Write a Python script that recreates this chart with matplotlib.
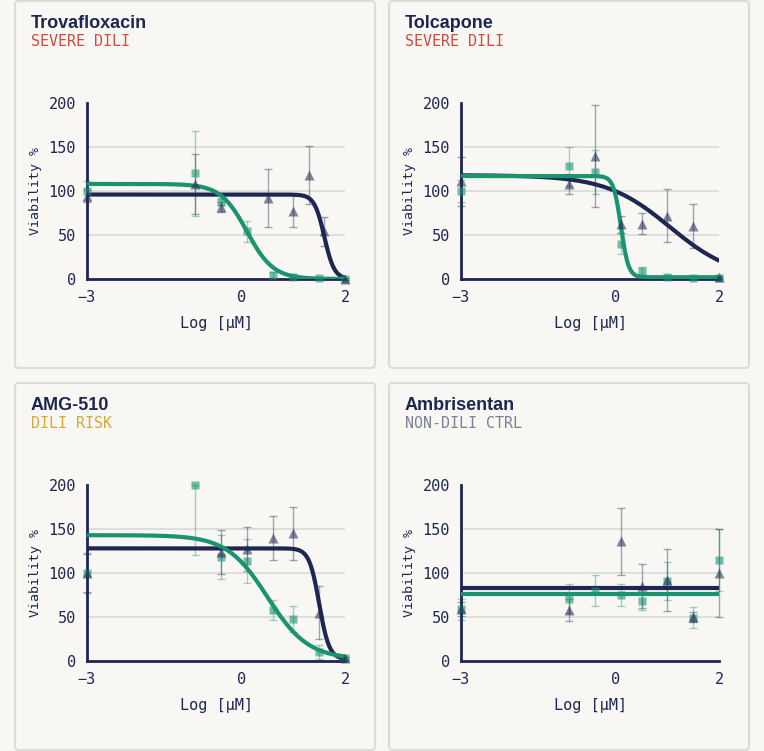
import numpy as np
import matplotlib
matplotlib.use("Agg")
import matplotlib.pyplot as plt
from matplotlib.patches import FancyBboxPatch

# colours
BG = "#f8f7f3"
NAVY = "#1e2652"
GREEN = "#1a9470"
GRID = "#d9d9d9"
MONO = "DejaVu Sans Mono"

drugs = ["Trovafloxacin", "Tolcapone", "AMG-510", "Ambrisentan"]
risk_labels = ["SEVERE DILI", "SEVERE DILI", "DILI RISK", "NON-DILI CTRL"]
risk_colors = ["#d24a3e", "#d24a3e", "#d6a83a", "#7c8295"]

# measured points: green squares and navy triangles (log uM, viability %, error)
trova_sq_x = [-3, -0.9, -0.4, 0.1, 0.6, 1.0, 1.5, 2.0]
trova_sq_y = [100, 120, 88, 54, 4.5, 2.5, 1.5, 0]
trova_sq_e = [11, 48, 4, 12, 3, 2, 1, 1]
trova_tri_x = [-3, -0.9, -0.4, 0.5, 1.0, 1.3, 1.6, 2.0]
trova_tri_y = [94, 108, 82, 92, 77, 118, 54, 0]
trova_tri_e = [7, 34, 6, 33, 18, 33, 16, 1]

tolca_sq_x = [-3, -0.9, -0.4, 0.1, 0.5, 1.0, 1.5, 2.0]
tolca_sq_y = [100, 128, 122, 40, 9, 2, 1, 1]
tolca_sq_e = [12, 22, 25, 12, 5, 2, 1, 1]
tolca_tri_x = [-3, -0.9, -0.4, 0.1, 0.5, 1.0, 1.5, 2.0]
tolca_tri_y = [111, 108, 140, 62, 63, 72, 60, 2]
tolca_tri_e = [28, 11, 58, 10, 12, 30, 25, 1]

amg_sq_x = [-3, -0.9, -0.4, 0.1, 0.6, 1.0, 1.5, 2.0]
amg_sq_y = [100, 200, 118, 114, 58, 48, 10, 3]
amg_sq_e = [23, 80, 25, 25, 11, 15, 8, 2]
amg_tri_x = [-3, -0.4, 0.1, 0.6, 1.0, 1.5, 2.0]
amg_tri_y = [100, 124, 127, 140, 145, 55, 3]
amg_tri_e = [22, 25, 25, 25, 30, 30, 2]

ambri_sq_x = [-3, -0.9, -0.4, 0.1, 0.5, 1.0, 1.5, 2.0]
ambri_sq_y = [59, 71, 80, 75, 68, 91, 49, 115]
ambri_sq_e = [12, 17, 18, 12, 10, 22, 12, 35]
ambri_tri_x = [-3, -0.9, 0.1, 0.5, 1.0, 1.5, 2.0]
ambri_tri_y = [59, 58, 136, 85, 92, 50, 100]
ambri_tri_e = [8, 12, 38, 25, 35, 6, 50]

# fitted 4PL curves: top, bottom, logIC50, hill
green_fits = [(108, 0, 0.1, 1.7), (117, 2, 0.1, 6), (143, 2, 0.5, 1.1), (76, 76, 0, 1)]
navy_fits = [(96, 0, 1.6, 4.5), (118, 0, 1.05, 0.7), (128, 2, 1.5, 4.5), (83, 83, 0, 1)]

squares = [(trova_sq_x, trova_sq_y, trova_sq_e), (tolca_sq_x, tolca_sq_y, tolca_sq_e),
           (amg_sq_x, amg_sq_y, amg_sq_e), (ambri_sq_x, ambri_sq_y, ambri_sq_e)]
triangles = [(trova_tri_x, trova_tri_y, trova_tri_e), (tolca_tri_x, tolca_tri_y, tolca_tri_e),
             (amg_tri_x, amg_tri_y, amg_tri_e), (ambri_tri_x, ambri_tri_y, ambri_tri_e)]


def four_pl(x, top, bottom, logic50, hill):
    return bottom + (top - bottom) / (1 + 10 ** ((x - logic50) * hill))


W, H = 764, 751
fig = plt.figure(figsize=(W / 100, H / 100), dpi=100, facecolor=BG)


def fx(px):
    return px / W


def fy(py):
    return 1 - py / H


# panel origins in pixels: card left, card top, axes left
cards = [(15, 1, 87), (389, 1, 461), (15, 383, 87), (389, 383, 461)]

xs = np.linspace(-3, 2, 300)

for i, (cx, cy, axl) in enumerate(cards):
    card = FancyBboxPatch((fx(cx), fy(cy + 367)), fx(360), 367 / H,
                          boxstyle="round,pad=0,rounding_size=0.005",
                          transform=fig.transFigure, facecolor="none",
                          edgecolor="#dcdbd6", linewidth=1.5, zorder=-1)
    fig.patches.append(card)

    fig.text(fx(cx + 16), fy(cy + 27), drugs[i], fontsize=13, fontweight="bold",
             color=NAVY, family="Liberation Sans")
    fig.text(fx(cx + 16), fy(cy + 45), risk_labels[i], fontsize=10.8, color=risk_colors[i],
             family=MONO)

    y0 = cy + 278
    ax = fig.add_axes([fx(axl), fy(y0), fx(258), 176 / H])
    ax.set_facecolor("none")
    ax.set_xlim(-3, 2)
    ax.set_ylim(0, 200)
    for s in ["top", "right"]:
        ax.spines[s].set_visible(False)
    for s in ["left", "bottom"]:
        ax.spines[s].set_color(NAVY)
        ax.spines[s].set_linewidth(2)
    ax.set_xticks([-3, 0, 2])
    ax.set_xticklabels(["\u22123", "0", "2"])
    ax.set_yticks([0, 50, 100, 150, 200])
    ax.tick_params(length=0, labelsize=11, colors=NAVY, pad=8)
    for lab in ax.get_xticklabels() + ax.get_yticklabels():
        lab.set_family(MONO)
    for g in [50, 100, 150]:
        ax.axhline(g, color=GRID, lw=1.2, zorder=1)
    ax.set_xlabel("Log [\u00b5M]", fontsize=11, family=MONO, color=NAVY, labelpad=8)
    ax.set_ylabel("Viability %", fontsize=9.5, family=MONO, color=NAVY, labelpad=5)

    # error bars and markers
    sx, sy, se = [np.array(a, float) for a in squares[i]]
    tx, ty, te = [np.array(a, float) for a in triangles[i]]
    ax.errorbar(sx, sy, yerr=[se, np.minimum(se, 200 - sy)], fmt="none", ecolor=GREEN,
                alpha=0.4, elinewidth=1, capsize=3, capthick=1, clip_on=False, zorder=2)
    ax.errorbar(tx, ty, yerr=[te, np.minimum(te, 200 - ty)], fmt="none", ecolor=NAVY,
                alpha=0.4, elinewidth=1, capsize=3, capthick=1, clip_on=False, zorder=2)

    ax.plot(xs, four_pl(xs, *navy_fits[i]), color=NAVY, lw=3, zorder=3,
            solid_capstyle="round")
    ax.plot(xs, four_pl(xs, *green_fits[i]), color=GREEN, lw=3, zorder=3.5,
            solid_capstyle="round")

    ax.plot(sx, sy, "s", ms=5.5, color=GREEN, alpha=0.6, mec="none", clip_on=False, zorder=4)
    ax.plot(tx, ty, "^", ms=7, color=NAVY, alpha=0.55, mec="none", clip_on=False, zorder=4)

fig.savefig("out.png", dpi=100, facecolor=BG)
